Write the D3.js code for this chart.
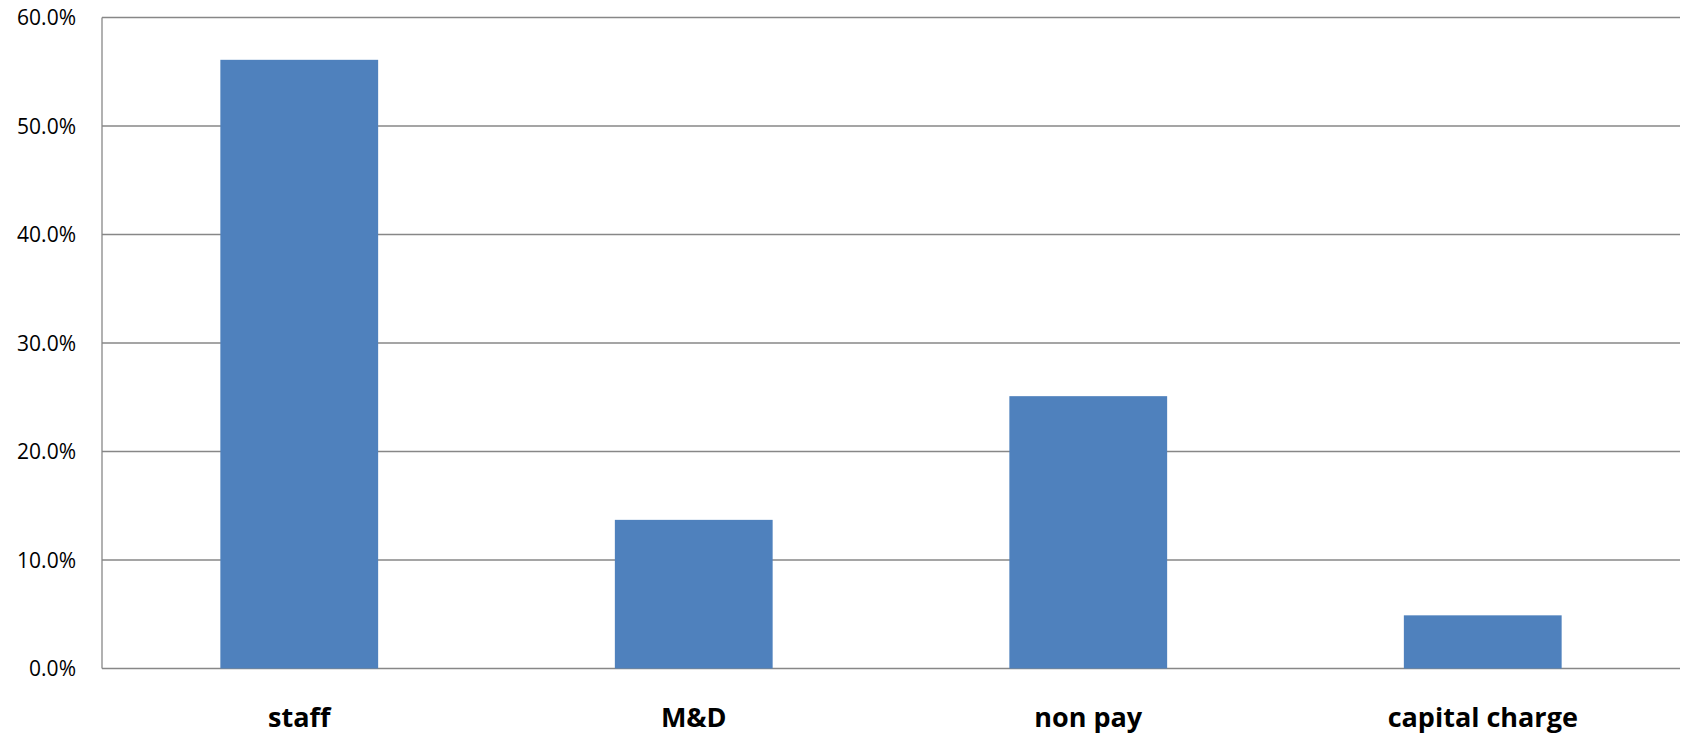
<!DOCTYPE html>
<html>
<head>
<meta charset="utf-8">
<script src="https://cdn.jsdelivr.net/npm/d3@7"></script>
<style>
  body { margin: 0; background: #fff; }
  text { font-family: "Open Sans", Lato, sans-serif; fill: #000; }
</style>
</head>
<body>
<script>
let width = 1685
let height = 737

let categories = ["staff", "M&D", "non pay", "capital charge"]
let shares = [56.1, 13.7, 25.1, 4.9]
let yTicks = [0, 10, 20, 30, 40, 50, 60]

let margin = {top: 17.5, right: 5, bottom: 68.5, left: 102}

let svg = d3.select("body")
    .append("svg")
    .attr("width", width)
    .attr("height", height)

let x = d3.scaleBand()
    .domain(categories)
    .range([margin.left, width - margin.right])
    .paddingInner(0.6)
    .paddingOuter(0.3)

let y = d3.scaleLinear()
    .domain([0, 60])
    .range([height - margin.bottom, margin.top])

// gridlines
svg.append("g")
    .selectAll("line")
    .data(yTicks)
    .enter()
    .append("line")
    .attr("x1", margin.left)
    .attr("x2", width - margin.right)
    .attr("y1", d => y(d))
    .attr("y2", d => y(d))
    .attr("stroke", "#878787")
    .attr("stroke-width", 1.3)

// y axis line
svg.append("line")
    .attr("x1", margin.left)
    .attr("x2", margin.left)
    .attr("y1", y(60))
    .attr("y2", y(0))
    .attr("stroke", "#878787")
    .attr("stroke-width", 1.3)

// bars
svg.append("g")
    .selectAll("rect")
    .data(shares)
    .enter()
    .append("rect")
    .attr("x", (d, i) => x(categories[i]))
    .attr("width", x.bandwidth())
    .attr("y", d => y(d))
    .attr("height", d => y(0) - y(d))
    .attr("fill", "#4F81BD")

// y tick labels
svg.append("g")
    .selectAll("text")
    .data(yTicks)
    .enter()
    .append("text")
    .attr("x", 76)
    .attr("y", d => y(d))
    .attr("dy", "0.36em")
    .attr("text-anchor", "end")
    .attr("font-size", 21)
    .text(d => d.toFixed(1) + "%")

// category labels
svg.append("g")
    .selectAll("text")
    .data(categories)
    .enter()
    .append("text")
    .attr("x", d => x(d) + x.bandwidth() / 2)
    .attr("y", 727)
    .attr("text-anchor", "middle")
    .attr("font-size", 27)
    .attr("font-weight", "bold")
    .text(d => d)
</script>
</body>
</html>
